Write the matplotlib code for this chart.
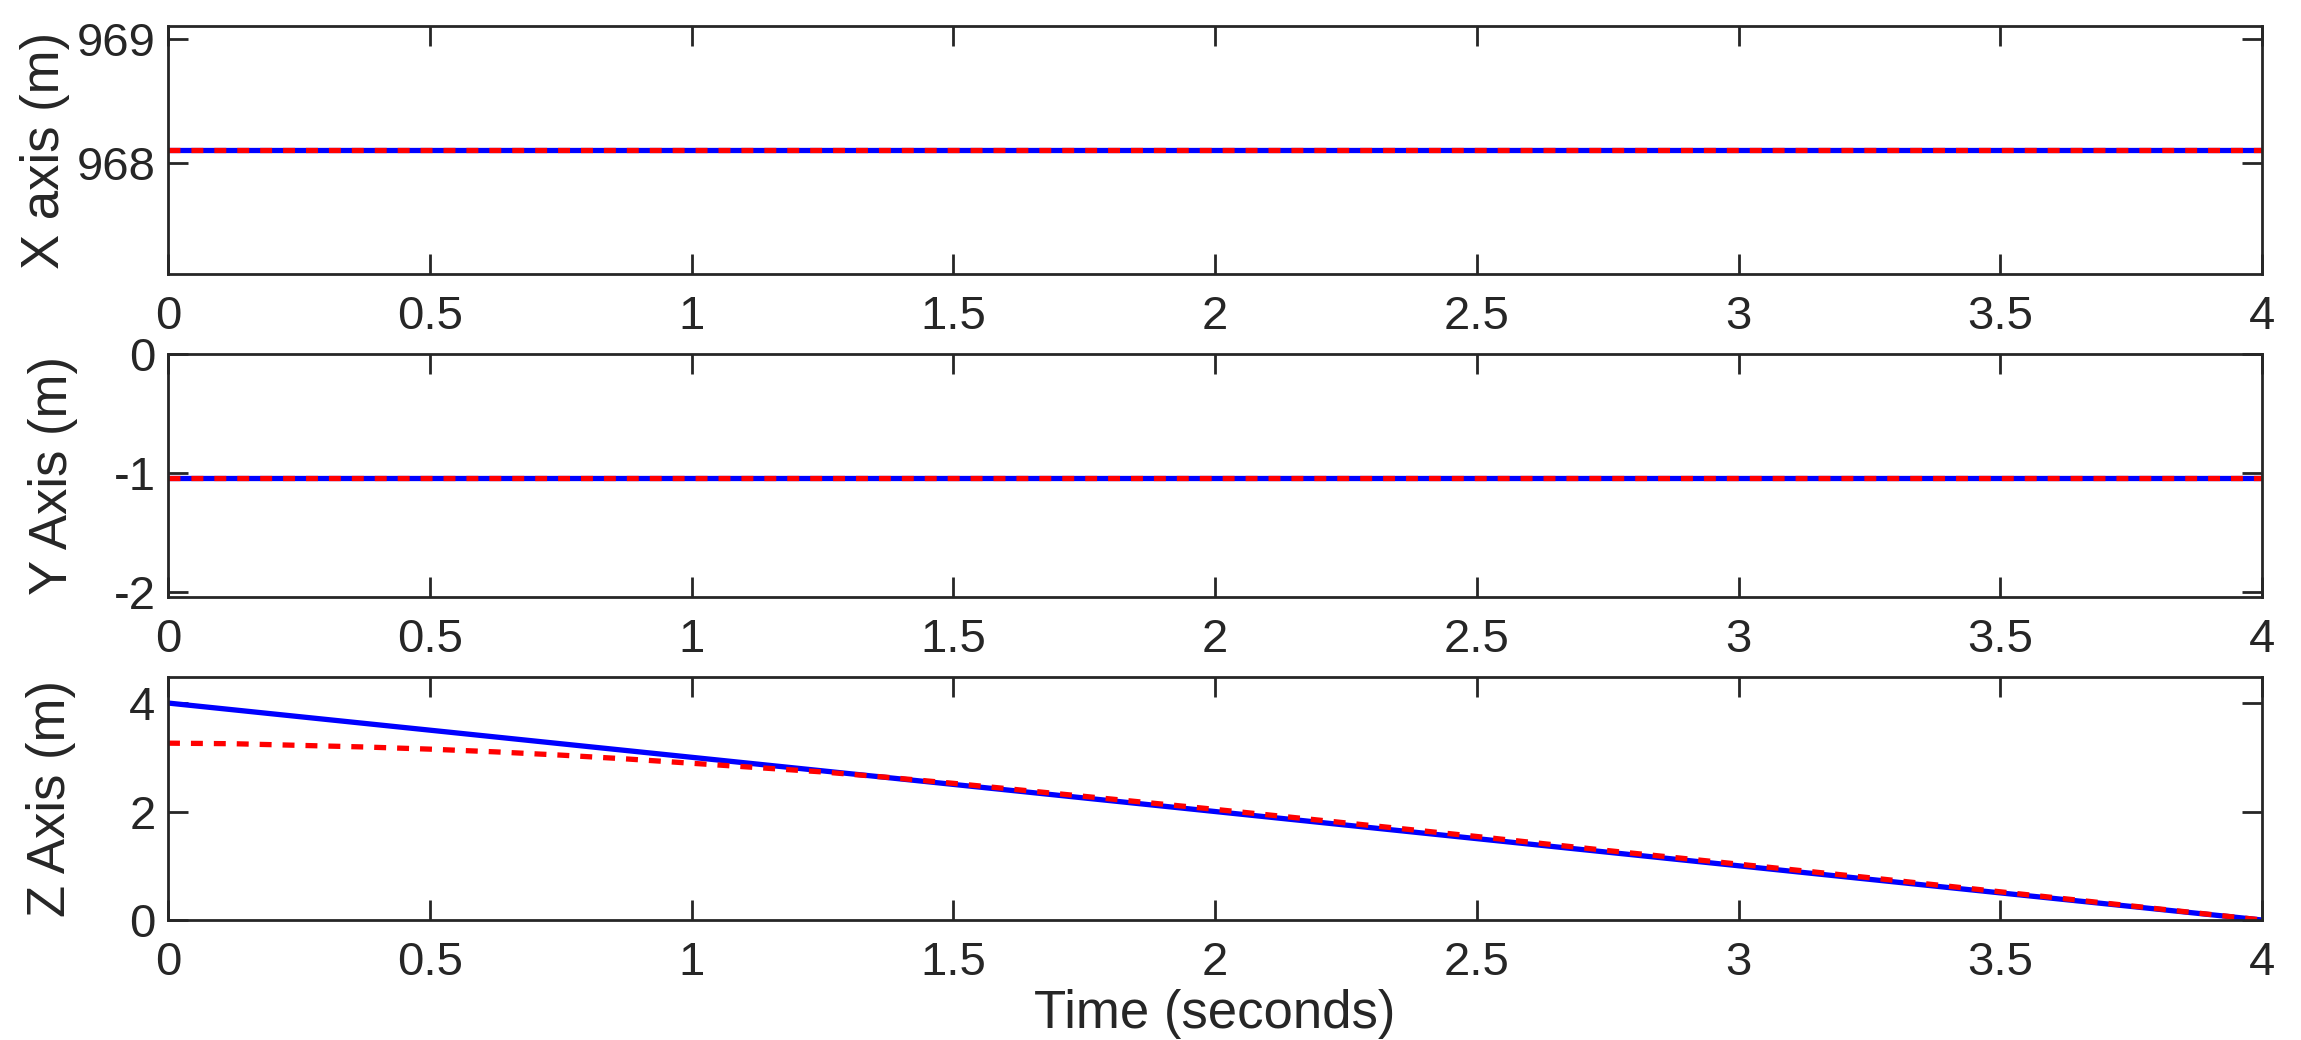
import numpy as np
import matplotlib.pyplot as plt

plt.rcParams['font.family'] = ['Liberation Sans', 'DejaVu Sans']

# time base and data
t_ref = [0.0, 4.0]
x_ref = [968.105, 968.105]
x_est = [968.105, 968.105]
y_ref = [-1.04, -1.04]
y_est = [-1.04, -1.04]
z_ref = [4.0, 0.0]

t_est = [0, 0.125, 0.25, 0.375, 0.5, 0.625, 0.75, 0.875, 1.0, 1.125, 1.25,
         1.375, 1.5, 1.75, 2.0, 2.25, 2.5, 2.75, 3.0, 3.25, 3.5, 3.75, 4.0]
z_est = [3.26, 3.25, 3.22, 3.19, 3.15, 3.10, 3.04, 2.97, 2.89, 2.81, 2.73,
         2.63, 2.52, 2.28, 2.04, 1.79, 1.54, 1.28, 1.03, 0.78, 0.52, 0.26, 0.0]

xticks = [0, 0.5, 1, 1.5, 2, 2.5, 3, 3.5, 4]
xtick_labels = ['0', '0.5', '1', '1.5', '2', '2.5', '3', '3.5', '4']

W, H = 2301, 1040
fig = plt.figure(figsize=(W / 100, H / 100), dpi=100)

ink = '#262626'
lw = 3.8
dash = (0, (8.6 / lw, 7.9 / lw))

def make_axes(top_px, bot_px):
    left, right = 168, 2262
    return fig.add_axes([left / W, 1 - bot_px / H, (right - left) / W, (bot_px - top_px) / H])

panels = [
    (make_axes(26, 274), x_ref, x_est, t_ref, 'X axis (m)', (967.105, 969.105), [968, 969]),
    (make_axes(354, 597), y_ref, y_est, t_ref, 'Y Axis (m)', (-2.04, 0.0), [-2, -1, 0]),
    (make_axes(677, 920), z_ref, z_est, t_est, 'Z Axis (m)', (0, 4.48), [0, 2, 4]),
]

label_x = [-0.047, -0.043, -0.044]

for i, (ax, ref, est, te, lab, ylim, yt) in enumerate(panels):
    ax.plot(t_ref, ref, color=(0, 0, 1), lw=lw, solid_capstyle='butt')
    ax.plot(te, est, color=(1, 0, 0), lw=lw, linestyle=dash, dash_capstyle='butt')
    ax.set_xlim(0, 4)
    ax.set_ylim(*ylim)
    ax.set_xticks(xticks)
    ax.set_xticklabels(xtick_labels)
    ax.set_yticks(yt)
    ax.set_yticklabels([str(v) for v in yt])
    ax.tick_params(direction='in', length=14.4, width=2.0, colors=ink,
                   labelsize=34, top=True, right=True)
    ax.tick_params(axis='x', pad=15)
    ax.tick_params(axis='y', pad=9)
    for sp in ax.spines.values():
        sp.set_linewidth(2.0)
        sp.set_color(ink)
    ax.set_ylabel(lab, fontsize=38, color=ink)
    ax.yaxis.set_label_coords(label_x[i], 0.5)

ax_z = panels[2][0]
ax_z.set_xlabel('Time (seconds)', fontsize=38, color=ink)
ax_z.xaxis.set_label_coords(0.5, -0.285)

fig.savefig('out.png', dpi=100, facecolor='white')
